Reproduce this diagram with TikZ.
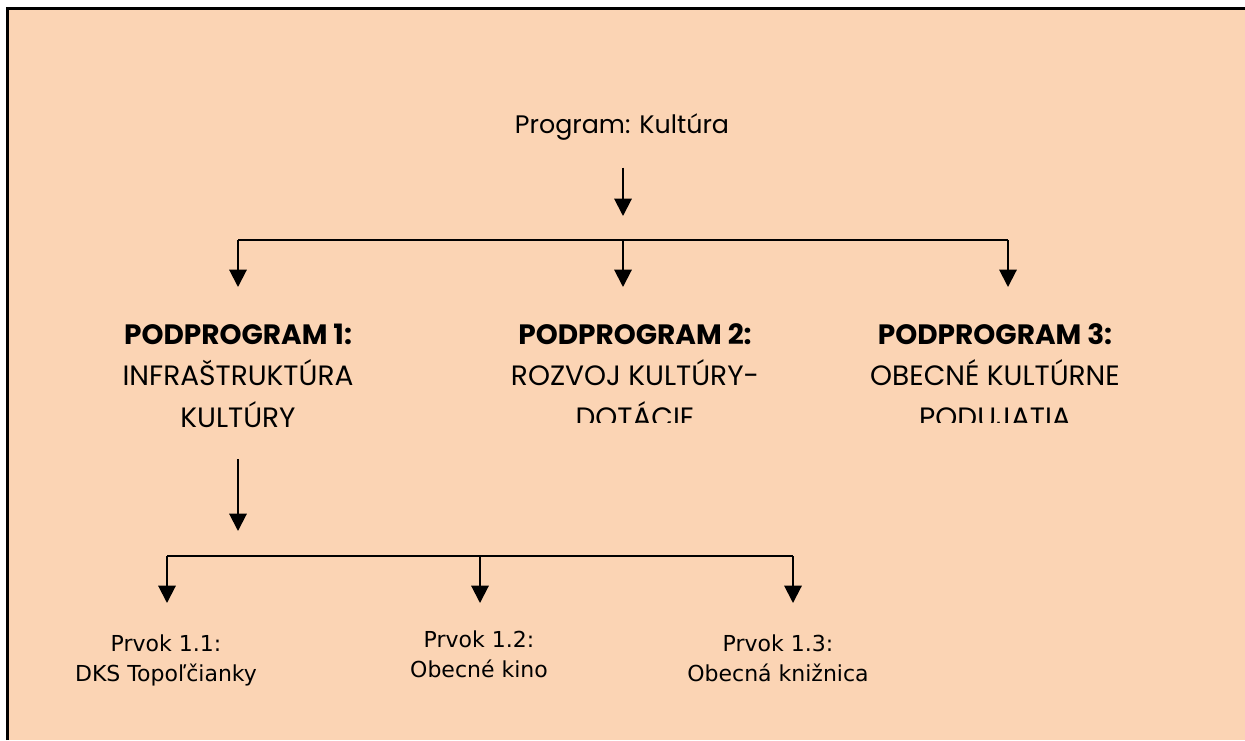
\documentclass[tikz,border=0pt]{standalone}
\usepackage{fontspec}
\usepackage{tikz}
\usetikzlibrary{arrows.meta, positioning}

\newfontfamily\gothic{Poppins}
\newfontfamily\verd{DejaVu Sans}
\definecolor{peach}{HTML}{FBD4B4}

\begin{document}
\begin{tikzpicture}[x=0.75pt, y=-0.75pt,
        title/.style = {
            font = \gothic\fontsize{19}{24}\selectfont,
            inner sep = 0pt,
            anchor = base
        },
        podprog/.style = {
            align = center,
            font = \gothic\fontsize{21}{31}\selectfont,
            inner sep = 0pt,
            anchor = base
        },
        prvok/.style = {
            align = center,
            font = \verd\fontsize{16.5}{22}\selectfont,
            inner sep = 0pt,
            anchor = base
        },
        link/.style = {line width=1.5pt},
        arr/.style = {link, -{Triangle[length=13pt, width=13pt]}}  ]

        \useasboundingbox (0,0) rectangle (1245,740);
        \fill[white] (0,0) rectangle (1245,740);
        \fill[peach] (7,8) rectangle (1245,740);
        \draw[line width=2.6pt] (7.5,740) -- (7.5,8.5) -- (1245,8.5);

        \node (prog) [title] at (622,133) {Program: Kultúra};

        \node (pp1) [podprog] at (238,427)
            {\textbf{PODPROGRAM 1:}\\INFRAŠTRUKTÚRA\\KULTÚRY};
        \begin{scope}
            \clip (400,290) rectangle (1245,422);
            \node (pp2) [podprog] at (635,427)
                {\textbf{PODPROGRAM 2:}\\ROZVOJ KULTÚRY-\\DOTÁCIE};
            \node (pp3) [podprog] at (995,427)
                {\textbf{PODPROGRAM 3:}\\OBECNÉ KULTÚRNE\\PODUJATIA};
        \end{scope}

        \node (pr1) [prvok] at (166,681) {Prvok 1.1:\\DKS Topoľčianky};
        \node (pr2) [prvok] at (479,677) {Prvok 1.2:\\Obecné kino};
        \node (pr3) [prvok] at (778,681) {Prvok 1.3:\\Obecná knižnica};

        % upper level
        \coordinate (progend) at (623,216);
        \coordinate (bus1) at (238,240);
        \coordinate (bus2) at (623,240);
        \coordinate (bus3) at (1008,240);
        \coordinate (in1) at (238,287);
        \coordinate (in2) at (623,287);
        \coordinate (in3) at (1008,287);

        \draw[arr] (prog) ++(1,41) -- (progend);
        \draw[link] (bus1) -- (bus3);
        \draw[arr] (bus1) -- (in1);
        \draw[arr] (bus2) -- (in2);
        \draw[arr] (bus3) -- (in3);

        % lower level
        \coordinate (pp1out) at (238,459);
        \coordinate (pp1end) at (238,531);
        \coordinate (sb1) at (167,556);
        \coordinate (sb2) at (480,556);
        \coordinate (sb3) at (793,556);
        \coordinate (sin1) at (167,603);
        \coordinate (sin2) at (480,603);
        \coordinate (sin3) at (793,603);

        \draw[arr] (pp1out) -- (pp1end);
        \draw[link] (sb1) -- (sb3);
        \draw[arr] (sb1) -- (sin1);
        \draw[arr] (sb2) -- (sin2);
        \draw[arr] (sb3) -- (sin3);
    \end{tikzpicture}
\end{document}
